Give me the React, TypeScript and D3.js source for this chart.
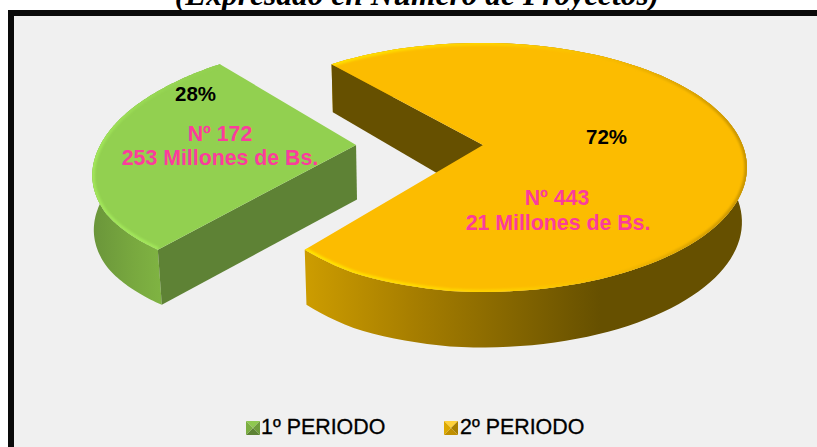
import React from "react";
import * as d3 from "d3";

const title = "(Expresado en Número de Proyectos)";
const categories = ["2º PERIODO", "1º PERIODO"];
const projects = [443, 172];
const percentLabels = ["72%", "28%"];
const amountLabels = ["21 Millones de Bs.", "253 Millones de Bs."];
const countLabels = ["Nº 443", "Nº 172"];

const W = 817, H = 447;
const apexX = 483, apexY = 145;
const A = 259.6, B = 120.4, K = 0.1807;
const explode = [0, 0.489];

const rad = (deg: number) => (deg * Math.PI) / 180;
const startDeg = 319;
const pieLayout = d3.pie<number>().sort(null).startAngle(rad(startDeg)).endAngle(rad(startDeg + 360));
const slices = pieLayout(projects);

// the drawn outline is a little fuller than a true circle, with rounded lower corners
const radiusAt = d3.scaleLinear()
  .domain([0, 150, 185, 205, 218, 238, 270, 300, 319, 360])
  .range([1, 1, 1, 0.985, 0.957, 0.975, 0.985, 1, 1.012, 1]);

type P = [number, number];
const topPoint = (a: number, r: number, e: number): P => {
  const deg = ((a * 180) / Math.PI + 360) % 360;
  const rr = r * radiusAt(deg);
  const u = rr * Math.sin(a) - e, v = -rr * Math.cos(a);
  const s = 1 / (1 - K * v);
  return [apexX + A * u * s, apexY + B * v * s];
};
const depthScale = d3.scaleLinear().domain([63, 145, 292]).range([48, 54.5, 55.5]);
const inset = d3.scaleLinear().domain([92, 159, 333, 747]).range([1.5, 4, 1.3, -5]);
const toBottom = ([x, y]: P): P => [x + inset(x), y + depthScale(y)];
const line = d3.line<P>();
const arcPoints = (a0: number, a1: number, e: number, r = 1): P[] =>
  d3.range(0, 121).map((i) => topPoint(a0 + ((a1 - a0) * i) / 120, r, e));

const c = slices.map((s, i) => {
  const arc = arcPoints(s.startAngle, s.endAngle, explode[i]);
  const apex = topPoint(0, 0, explode[i]);
  return { arc, apex, first: arc[0], last: arc[arc.length - 1] };
});
const face = (i: number) => line([c[i].apex, ...c[i].arc])! + "Z";
// one quad per arc step, so the silhouette includes the tangent between top and bottom rims
const outerWall = (i: number) =>
  c[i].arc
    .slice(1)
    .map((p, k) => {
      const q = c[i].arc[k];
      return line([q, p, toBottom(p), toBottom(q)])! + "Z";
    })
    .join("");
const flatWall = (p: P, q: P) => line([p, q, toBottom(q), toBottom(p)])! + "Z";

const font = "'Liberation Sans', Arial, sans-serif";
const pink = "#fb3c9c";

function Marker({ x, y, colors }: { x: number; y: number; colors: string[] }) {
  const s = 14, m = 7;
  const tri = (pts: P[], f: string, k: number) => <path key={k} d={line(pts)! + "Z"} fill={f} />;
  return (
    <g transform={`translate(${x},${y})`}>
      {tri([[0, 0], [s, 0], [m, m]], colors[0], 0)}
      {tri([[s, 0], [s, s], [m, m]], colors[1], 1)}
      {tri([[0, s], [s, s], [m, m]], colors[2], 2)}
      {tri([[0, 0], [0, s], [m, m]], colors[3], 3)}
    </g>
  );
}

export default function App() {
  return (
    <svg width={W} height={H} viewBox={`0 0 ${W} ${H}`} style={{ position: "absolute", left: 0, top: 0, background: "#fff" }}>
      <defs>
        <linearGradient id="oWall" gradientUnits="userSpaceOnUse" x1={307} x2={600} y1={0} y2={0}>
          <stop offset="0" stopColor="#cc9c00" />
          <stop offset="0.35" stopColor="#a87f00" />
          <stop offset="1" stopColor="#665000" />
        </linearGradient>
        <linearGradient id="gWall" gradientUnits="userSpaceOnUse" x1={92} x2={160} y1={0} y2={0}>
          <stop offset="0" stopColor="#6a953a" />
          <stop offset="0.6" stopColor="#78a83f" />
          <stop offset="1" stopColor="#7fb342" />
        </linearGradient>
        <linearGradient id="oRim" gradientUnits="userSpaceOnUse" x1={307} x2={747} y1={0} y2={0}>
          <stop offset="0" stopColor="#ffe400" />
          <stop offset="0.45" stopColor="#ffd000" />
          <stop offset="0.7" stopColor="#f6b900" />
          <stop offset="1" stopColor="#c89400" />
        </linearGradient>
        <linearGradient id="gRim" gradientUnits="userSpaceOnUse" x1={0} x2={0} y1={63} y2={253}>
          <stop offset="0" stopColor="#92d050" />
          <stop offset="0.45" stopColor="#a2e65a" />
          <stop offset="1" stopColor="#a2e65a" />
        </linearGradient>
        <filter id="soft" x="-5%" y="-5%" width="110%" height="110%">
          <feGaussianBlur stdDeviation="1.3" />
        </filter>
        <clipPath id="clipO"><path d={face(0)} /></clipPath>
        <clipPath id="clipG"><path d={face(1)} /></clipPath>
      </defs>

      <text x={417} y={5} textAnchor="middle" fontFamily="'Liberation Serif', serif" fontStyle="italic" fontWeight="bold" fontSize={31.5} fill="#000">{title}</text>
      <rect x={11} y={13} width={W + 20} height={H + 20} fill="#f0f0f0" stroke="#0a0a0a" strokeWidth={6} />

      {/* 1º periodo */}
      <path d={outerWall(1)} fill="url(#gWall)" />
      <path d={flatWall(c[1].first, c[1].apex)} fill="#5e8235" />
      <path d={face(1)} fill="#92d050" />
      <g clipPath="url(#clipG)">
        <path d={line(c[1].arc)!} fill="none" stroke="url(#gRim)" strokeWidth={5} filter="url(#soft)" />
      </g>

      {/* 2º periodo */}
      <path d={outerWall(0)} fill="url(#oWall)" />
      <path d={flatWall(c[0].first, c[0].apex)} fill="#665000" />
      <path d={face(0)} fill="#fcbc00" />
      <g clipPath="url(#clipO)">
        <path d={line(c[0].arc)!} fill="none" stroke="url(#oRim)" strokeWidth={5} filter="url(#soft)" />
      </g>

      <g fontFamily={font} fontWeight="bold" fontSize={20.5} textAnchor="middle">
        <text x={606.5} y={144} fill="#000">{percentLabels[0]}</text>
        <text x={195.5} y={101} fill="#000">{percentLabels[1]}</text>
        <g fill={pink} fontSize={21.3}>
          <text x={557} y={205}>{countLabels[0]}</text>
          <text x={558} y={230}>{amountLabels[0]}</text>
          <text x={220} y={141}>{countLabels[1]}</text>
          <text x={220} y={165}>{amountLabels[1]}</text>
        </g>
      </g>

      <Marker x={246} y={421} colors={["#8fc850", "#6f9c3c", "#5e8235", "#7cae42"]} />
      <text x={261} y={434} fontFamily={font} fontSize={21.4} fill="#000" stroke="#000" strokeWidth={0.3}>{categories[1]}</text>
      <Marker x={444} y={421} colors={["#ffd23a", "#a87f00", "#c08f00", "#dca800"]} />
      <text x={460} y={434} fontFamily={font} fontSize={21.4} fill="#000" stroke="#000" strokeWidth={0.3}>{categories[0]}</text>
    </svg>
  );
}
